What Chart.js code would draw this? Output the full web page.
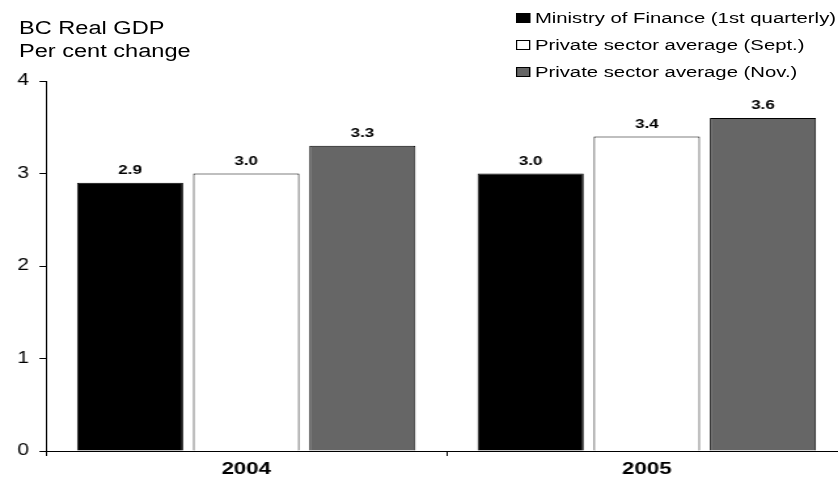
<!DOCTYPE html>
<html><head><meta charset="utf-8">
<script src="https://cdn.jsdelivr.net/npm/chart.js@4"></script>
<style>
html,body{margin:0;padding:0;background:#fff;overflow:hidden;width:838px;height:484px;}
#wrap{position:absolute;left:0;top:0;width:650px;height:484px;transform-origin:0 0;transform:scaleX(1.3094);}
canvas{position:absolute;left:0;top:0;}
.t{position:absolute;font-family:"Liberation Sans",Arial,sans-serif;color:#000;white-space:nowrap;}
#title{left:14.5px;top:17px;font-size:18px;line-height:23px;}
#legend{left:394px;top:4px;font-size:15.5px;line-height:27px;}
.sw{display:inline-block;width:10.5px;height:10px;border:1px solid #000;margin-right:4px;vertical-align:0px;box-sizing:border-box;}
</style></head>
<body>
<div id="wrap">
<canvas id="c" width="650" height="484" style="width:650px;height:484px"></canvas>
<div class="t" id="title">BC Real GDP<br>Per cent change</div>
<div class="t" id="legend"></div>
</div>
<script>
const categories = ["2004", "2005"];
const seriesNames = ["Ministry of Finance (1st quarterly)", "Private sector average (Sept.)", "Private sector average (Nov.)"];
const ministryOfFinance = [2.9, 3.0];
const privateSept = [3.0, 3.4];
const privateNov = [3.3, 3.6];
const yTicks = [0, 1, 2, 3, 4];
const colors = ["#000000", "#ffffff", "#666666"];

const leg = document.getElementById('legend');
seriesNames.forEach((n,i)=>{
  const d=document.createElement('div');
  d.innerHTML='<span class="sw" style="background:'+colors[i]+'"></span>'+n;
  leg.appendChild(d);
});

const valueLabels = {
  id:'valueLabels',
  afterDatasetsDraw(chart){
    const ctx=chart.ctx;
    ctx.save();
    ctx.font='bold 13px "Liberation Sans", Arial, sans-serif';
    ctx.fillStyle='#000';
    ctx.textAlign='center';
    ctx.textBaseline='alphabetic';
    chart.data.datasets.forEach((ds,di)=>{
      chart.getDatasetMeta(di).data.forEach((bar,i)=>{
        ctx.fillText(ds.data[i].toFixed(1), bar.x, bar.y-9);
      });
    });
    ctx.restore();
  }
};

new Chart(document.getElementById('c'),{
  type:'bar',
  data:{
    labels:categories,
    datasets:[
      {label:seriesNames[0],data:ministryOfFinance,backgroundColor:colors[0],borderColor:'#000',borderWidth:1},
      {label:seriesNames[1],data:privateSept,backgroundColor:colors[1],borderColor:'#000',borderWidth:1},
      {label:seriesNames[2],data:privateNov,backgroundColor:colors[2],borderColor:'#000',borderWidth:1}
    ]
  },
  options:{
    responsive:false,
    animation:false,
    devicePixelRatio:1,
    layout:{padding:{top:81,right:3.1,left:0,bottom:0}},
    plugins:{legend:{display:false},tooltip:{enabled:false}},
    datasets:{bar:{categoryPercentage:0.87,barPercentage:0.914}},
    scales:{
      x:{
        grid:{display:true,drawOnChartArea:false,drawTicks:true,tickLength:5,color:'#000',offset:true},
        border:{display:true,color:'#000',width:1},
        ticks:{color:'#000',font:{family:'"Liberation Sans", Arial, sans-serif',size:17,weight:'bold'},padding:3},
        afterFit(s){s.height=484-451;}
      },
      y:{
        min:0,max:4,
        afterBuildTicks(s){s.ticks=yTicks.map(v=>({value:v}));},
        grid:{display:true,drawOnChartArea:false,drawTicks:true,tickLength:5,color:'#000'},
        border:{display:true,color:'#000',width:1},
        ticks:{color:'#000',font:{family:'"Liberation Sans", Arial, sans-serif',size:16},padding:8},
        afterFit(s){s.width=35.1;}
      }
    }
  },
  plugins:[valueLabels]
});
</script>
</body></html>
